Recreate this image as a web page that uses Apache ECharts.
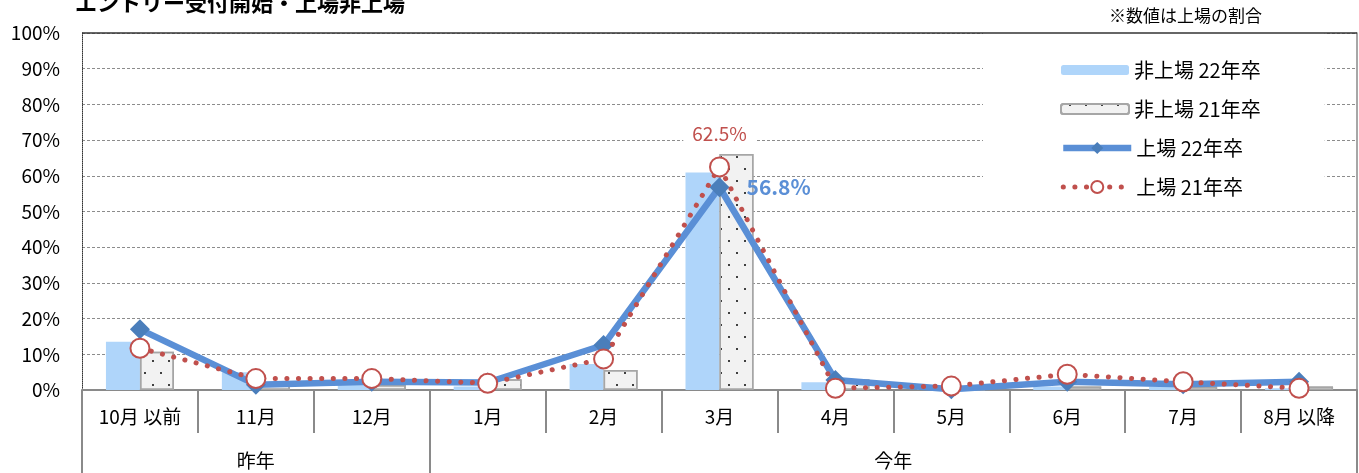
<!DOCTYPE html>
<html>
<head>
<meta charset="utf-8">
<script src="https://cdn.jsdelivr.net/npm/echarts@6/dist/echarts.min.js"></script>
<style>
  html, body { margin: 0; padding: 0; background: #fff; }
  #chart { width: 1359px; height: 473px; }
</style>
</head>
<body>
<div id="chart"></div>
<script>
// Month categories (first level of the x axis)
const months = ['10月 以前', '11月', '12月', '1月', '2月', '3月', '4月', '5月', '6月', '7月', '8月 以降'];
// Year groups (second level): label and the category range [from, to) it spans
const yearGroups = ['昨年', '今年'];
const yearSpans = [[0, 3], [3, 11]];

// Share of companies opening entry, by month (%)
const unlisted22 = [13.5, 5.0, 1.7, 1.0, 7.3, 60.9, 2.2, 0.3, 1.0, 1.0, 0.5];
const unlisted21 = [10.7, 1.5, 1.4, 3.0, 5.6, 66.1, 3.0, 0.2, 1.0, 1.0, 1.0];
const listed22   = [17.0, 1.5, 2.3, 2.1, 12.6, 56.8, 2.8, 0.2, 2.3, 1.6, 2.3];
const listed21   = [11.7, 3.2, 3.2, 1.9, 8.7, 62.5, 0.5, 1.1, 4.4, 2.3, 0.5];

const seriesNames = ['非上場 22年卒', '非上場 21年卒', '上場 22年卒', '上場 21年卒'];
const titleText = 'エントリー受付開始・上場非上場';
const noteText = '※数値は上場の割合';

const FONT = '"Noto Sans CJK JP", "Noto Sans", sans-serif';
const BLUE_LINE = '#5a8fd6';
const BLUE_MARK = '#4a7ebb';
const RED = '#c0504d';

// Only the peak month of each listed series carries a value label
function withPeakLabel(values, labelStyle) {
  const peak = values.indexOf(Math.max(...values));
  return values.map((v, i) => i === peak ? { value: v, label: Object.assign({ show: true }, labelStyle) } : v);
}

const legendText = { fontFamily: FONT, fontSize: 20, color: '#000', lineHeight: 22 };

const chart = echarts.init(document.getElementById('chart'), null, { renderer: 'canvas' });

const option = {
  animation: false,
  textStyle: { fontFamily: FONT },
  title: [
    {
      text: titleText, left: 70, top: -13,
      textStyle: { fontFamily: FONT, fontSize: 22, fontWeight: 'bold', color: '#000' }
    },
    {
      text: noteText, left: 1104, top: 2,
      textStyle: { fontFamily: FONT, fontSize: 17, fontWeight: 'normal', color: '#000' }
    }
  ],
  grid: { left: 82, right: 2, top: 33, bottom: 83, containLabel: false },
  legend: [
    {
      // bar entries; its white box also backs the line entries below
      data: seriesNames.slice(0, 2),
      orient: 'vertical',
      left: 983, top: 33,
      padding: [26, 64, 85, 77],
      backgroundColor: '#fff',
      itemWidth: 68, itemHeight: 10, itemGap: 17,
      textStyle: legendText
    },
    {
      // line entries, with larger markers
      data: seriesNames.slice(2),
      orient: 'vertical',
      left: 1060, top: 137,
      padding: 0,
      itemWidth: 68, itemHeight: 15, itemGap: 17,
      lineStyle: { width: 'inherit', type: 'inherit' },
      textStyle: legendText
    }
  ],
  xAxis: [
    {
      type: 'category', data: months, gridIndex: 0, position: 'bottom',
      boundaryGap: true,
      axisLine: { show: true, lineStyle: { color: '#8a8a8a', width: 2 } },
      axisTick: { show: true, interval: 0, length: 43, lineStyle: { color: '#8a8a8a', width: 2 } },
      axisLabel: { interval: 0, margin: 17, fontFamily: FONT, fontSize: 19, color: '#000' },
      splitLine: { show: false }
    },
    {
      // second level: year groups spanning the month categories
      type: 'value', gridIndex: 0, position: 'bottom', min: 0, max: months.length,
      axisLine: { show: false },
      axisTick: {
        show: true, length: 83,
        customValues: Array.from(new Set(yearSpans.flat())),
        lineStyle: { color: '#8a8a8a', width: 2 }
      },
      axisLabel: {
        margin: 61, fontFamily: FONT, fontSize: 19, color: '#000',
        customValues: yearSpans.map(s => (s[0] + s[1]) / 2),
        formatter: v => yearGroups[yearSpans.findIndex(s => (s[0] + s[1]) / 2 === v)]
      },
      splitLine: { show: false }
    }
  ],
  yAxis: [
    {
      type: 'value', min: 0, max: 100, interval: 10,
      axisLine: { show: true, lineStyle: { color: '#333', type: 'dotted', width: 1 } },
      axisTick: { show: false },
      axisLabel: { formatter: '{value}%', margin: 22, fontFamily: FONT, fontSize: 19, color: '#000' },
      splitLine: { show: true, lineStyle: { color: '#8c8c8c', type: [3, 2], width: 1 } }
    },
    {
      type: 'value', min: 0, max: 100, position: 'right',
      axisLine: { show: true, lineStyle: { color: '#8a8a8a', width: 1.5 } },
      axisTick: { show: false }, axisLabel: { show: false }, splitLine: { show: false }
    }
  ],
  series: [
    {
      name: seriesNames[0], type: 'bar', data: unlisted22,
      barWidth: 34, barGap: '0%',
      itemStyle: { color: '#afd5fa' },
      markLine: {
        silent: true, symbol: 'none', label: { show: false },
        lineStyle: { color: '#333', type: 'solid', width: 1.5 },
        data: [{ yAxis: 100 }]
      },
      z: 2
    },
    {
      name: seriesNames[1], type: 'bar', data: unlisted21,
      barWidth: 34, barGap: '0%',
      itemStyle: {
        color: '#f2f2f2', borderColor: '#a6a6a6', borderWidth: 1.5,
        decal: {
          symbol: 'rect', symbolSize: 1, color: '#404040',
          dashArrayX: [[2, 14], [0, 8, 2, 6]], dashArrayY: [2, 10],
          rotation: 0
        }
      },
      z: 2
    },
    {
      name: seriesNames[2], type: 'line', data: withPeakLabel(listed22, {
        position: 'right', distance: 17, formatter: p => p.value + '%',
        color: '#5b8fd6', fontFamily: FONT, fontSize: 21, fontWeight: 'bold'
      }),
      symbol: 'diamond', symbolSize: 20,
      lineStyle: { color: BLUE_LINE, width: 6.5 },
      itemStyle: { color: BLUE_MARK },
      z: 3
    },
    {
      name: seriesNames[3], type: 'line', data: withPeakLabel(listed21, {
        position: 'top', distance: 12, formatter: p => p.value + '%',
        color: RED, fontFamily: FONT, fontSize: 19,
        backgroundColor: '#fff', padding: [1, 9]
      }),
      symbol: 'circle', symbolSize: 19,
      lineStyle: { color: RED, width: 5, type: [0.1, 11.5], cap: 'round' },
      itemStyle: { color: '#fff', borderColor: RED, borderWidth: 2 },
      z: 4
    }
  ]
};

chart.setOption(option);
</script>
</body>
</html>
